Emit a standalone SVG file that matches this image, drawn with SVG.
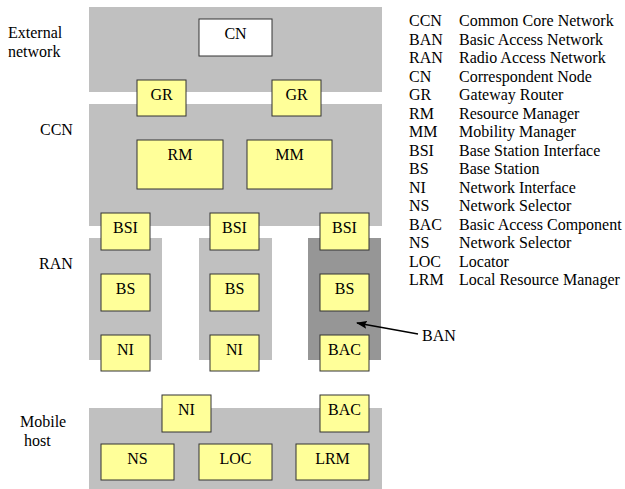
<svg xmlns="http://www.w3.org/2000/svg" width="625" height="489" viewBox="0 0 625 489">
<style>
text{font-family:"Liberation Serif","Times New Roman",serif;font-size:16px;fill:#000}
.n rect{fill:#FFFF99;stroke:#333;stroke-width:1}
.n text{text-anchor:middle}
.p{fill:#C0C0C0}
.d{fill:#969696}
</style>
<defs>
<marker id="ah" markerWidth="11" markerHeight="8" refX="10" refY="4" orient="auto" markerUnits="userSpaceOnUse">
<path d="M0,0 L11,4 L0,8 L2,4 Z" fill="#000"/>
</marker>
</defs>
<rect width="625" height="489" fill="#fff"/>
<g id="panels">
<rect class="p" x="89" y="7" width="293" height="85"/>
<rect class="p" x="89" y="104" width="293" height="122"/>
<rect class="p" x="89" y="238" width="73" height="122"/>
<rect class="p" x="199" y="238" width="73" height="122"/>
<rect class="d" x="308" y="238" width="73" height="122"/>
<rect class="p" x="89" y="408" width="293" height="81"/>
</g>
<g id="labels">
<text x="8" y="38">External</text>
<text x="8" y="57">network</text>
<text x="40" y="135">CCN</text>
<text x="39" y="269">RAN</text>
<text x="20" y="427">Mobile</text>
<text x="24" y="446">host</text>
<text x="422" y="341">BAN</text>
</g>
<g id="CN" class="n"><rect x="199" y="19" width="73" height="37" style="fill:#fff"/><text x="235.5" y="39">CN</text></g>
<g id="GR1" class="n"><rect x="137" y="80" width="49" height="36"/><text x="161.5" y="100">GR</text></g>
<g id="GR2" class="n"><rect x="272" y="80" width="49" height="36"/><text x="296.5" y="100">GR</text></g>
<g id="RM" class="n"><rect x="137" y="140" width="86" height="49"/><text x="180" y="160">RM</text></g>
<g id="MM" class="n"><rect x="247" y="140" width="85" height="49"/><text x="289.5" y="160">MM</text></g>
<g id="BSI1" class="n"><rect x="101" y="213" width="49" height="37"/><text x="125.5" y="233">BSI</text></g>
<g id="BSI2" class="n"><rect x="210" y="213" width="49" height="37"/><text x="234.5" y="233">BSI</text></g>
<g id="BSI3" class="n"><rect x="320" y="213" width="49" height="37"/><text x="344.5" y="233">BSI</text></g>
<g id="BS1" class="n"><rect x="101" y="274" width="49" height="37"/><text x="125.5" y="294">BS</text></g>
<g id="BS2" class="n"><rect x="210" y="274" width="49" height="37"/><text x="234.5" y="294">BS</text></g>
<g id="BS3" class="n"><rect x="320" y="274" width="49" height="37"/><text x="344.5" y="294">BS</text></g>
<g id="NI1" class="n"><rect x="101" y="335" width="49" height="36"/><text x="125.5" y="355">NI</text></g>
<g id="NI2" class="n"><rect x="210" y="335" width="49" height="36"/><text x="234.5" y="355">NI</text></g>
<g id="BAC1" class="n"><rect x="320" y="335" width="49" height="36"/><text x="344.5" y="355">BAC</text></g>
<g id="NI3" class="n"><rect x="162" y="395" width="49" height="37"/><text x="186.5" y="415">NI</text></g>
<g id="BAC2" class="n"><rect x="320" y="395" width="49" height="37"/><text x="344.5" y="415">BAC</text></g>
<g id="NS" class="n"><rect x="101" y="444" width="73" height="36"/><text x="137.5" y="464">NS</text></g>
<g id="LOC" class="n"><rect x="199" y="444" width="73" height="36"/><text x="235.5" y="464">LOC</text></g>
<g id="LRM" class="n"><rect x="296" y="444" width="73" height="36"/><text x="332.5" y="464">LRM</text></g>
<g id="connectors">
<line x1="418" y1="334" x2="357" y2="323" stroke="#000" stroke-width="1.5" marker-end="url(#ah)"/>
</g>
<g id="legend">
<text x="409" y="26">CCN</text><text x="459" y="26">Common Core Network</text>
<text x="409" y="44.5">BAN</text><text x="459" y="44.5">Basic Access Network</text>
<text x="409" y="63">RAN</text><text x="459" y="63">Radio Access Network</text>
<text x="409" y="81.5">CN</text><text x="459" y="81.5">Correspondent Node</text>
<text x="409" y="100">GR</text><text x="459" y="100">Gateway Router</text>
<text x="409" y="118.5">RM</text><text x="459" y="118.5">Resource Manager</text>
<text x="409" y="137">MM</text><text x="459" y="137">Mobility Manager</text>
<text x="409" y="155.5">BSI</text><text x="459" y="155.5">Base Station Interface</text>
<text x="409" y="174">BS</text><text x="459" y="174">Base Station</text>
<text x="409" y="192.5">NI</text><text x="459" y="192.5">Network Interface</text>
<text x="409" y="211">NS</text><text x="459" y="211">Network Selector</text>
<text x="409" y="229.5">BAC</text><text x="459" y="229.5">Basic Access Component</text>
<text x="409" y="248">NS</text><text x="459" y="248">Network Selector</text>
<text x="409" y="266.5">LOC</text><text x="459" y="266.5">Locator</text>
<text x="409" y="285">LRM</text><text x="459" y="285">Local Resource Manager</text>
</g>
</svg>
